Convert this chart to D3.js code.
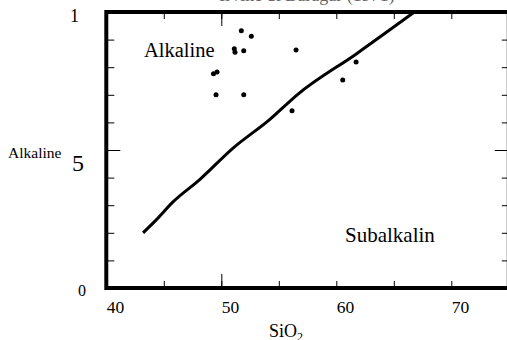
<!DOCTYPE html>
<html>
<head>
<meta charset="utf-8">
<script src="https://cdn.jsdelivr.net/npm/d3@7"></script>
<style>
body { margin: 0; background: #fff; }
svg text { font-family: "Liberation Serif", "Times New Roman", serif; fill: #000; }
</style>
</head>
<body>
<svg id="chart"></svg>
<script>
// samples (SiO2 wt%, alkali wt%)
var sio2 = [51.74, 52.61, 51.13, 51.19, 51.95, 56.50, 49.32, 49.63, 49.54, 51.95, 56.15, 61.72, 60.56];
var alkali = [9.32, 9.12, 8.67, 8.54, 8.60, 8.62, 7.76, 7.83, 7.00, 7.00, 6.42, 8.19, 7.54];

// alkaline / subalkaline divide
var lineSio2 = [43.2, 44.3, 45.8, 48.1, 51.0, 54.2, 56.6, 61.8, 66.8];
var lineAlkali = [2.0, 2.45, 3.12, 3.92, 5.06, 6.1, 7.0, 8.5, 10];

var xMinor = [45, 50, 55, 60, 65, 70];
var xMajor = [50];
var xLabels = [40, 50, 60, 70];
var yMinor = [1, 2, 3, 4, 5, 6, 7, 8, 9];
var yMajor = [5];
var yLabels = ['1', '5', '0'];
var yLabelValues = [10, 5, 0];

var width = 507, height = 340;
var svg = d3.select('#chart')
            .attr('width', width)
            .attr('height', height);

var x = d3.scaleLinear()
            .domain([40, 75])
            .range([106.3, 106.3 + 35 * 11.5]);
var y = d3.scaleLinear()
            .domain([0, 10])
            .range([288, 12]);

function tickAxis(axis, transform) {
    var g = svg.append('g')
        .attr('transform', transform)
        .call(axis);
    g.select('.domain').remove();
    g.selectAll('line').attr('stroke', '#000').attr('stroke-width', 1);
    g.selectAll('text').remove();
}

// minor and major ticks, pointing inward on all four sides
tickAxis(d3.axisBottom(x).tickValues(xMinor).tickSize(-7), `translate(0,${y(0)})`);
tickAxis(d3.axisBottom(x).tickValues(xMajor).tickSize(-14), `translate(0,${y(0)})`);
tickAxis(d3.axisTop(x).tickValues(xMinor).tickSize(-7), `translate(0,${y(10)})`);
tickAxis(d3.axisTop(x).tickValues(xMajor).tickSize(-14), `translate(0,${y(10)})`);
tickAxis(d3.axisLeft(y).tickValues(yMinor).tickSize(-8), `translate(${x(40)},0)`);
tickAxis(d3.axisLeft(y).tickValues(yMajor).tickSize(-14), `translate(${x(40)},0)`);
tickAxis(d3.axisRight(y).tickValues(yMinor).tickSize(-7), `translate(${x(75)},0)`);
tickAxis(d3.axisRight(y).tickValues(yMajor).tickSize(-14), `translate(${x(75)},0)`);

// frame
svg.append('rect')
    .attr('x', x(40))
    .attr('y', y(10))
    .attr('width', x(75) - x(40))
    .attr('height', y(0) - y(10))
    .attr('fill', 'none')
    .attr('stroke', '#000')
    .attr('stroke-width', 4);

// boundary line
var linePts = lineSio2.map((v, i) => [v, lineAlkali[i]]);
svg.append('path')
    .datum(linePts)
    .attr('fill', 'none')
    .attr('stroke', '#000')
    .attr('stroke-width', 3)
    .attr('d', d3.line()
                .x(d => x(d[0]))
                .y(d => y(d[1]))
                .curve(d3.curveMonotoneX));

// samples
svg.selectAll('.dot')
    .data(sio2.map((v, i) => [v, alkali[i]]))
    .enter()
    .append('circle')
        .classed('dot', true)
        .attr('cx', d => x(d[0]))
        .attr('cy', d => y(d[1]))
        .attr('r', 2.5)
        .attr('fill', '#000');

// x tick labels
svg.selectAll('.xlab')
    .data(xLabels)
    .enter()
    .append('text')
        .classed('xlab', true)
        .attr('x', d => x(d) + 0.5)
        .attr('y', 313)
        .style('font-size', '17.5px')
        .text(d => d);

// y tick labels, each set differently in the original
var ySizes = ['18px', '24px', '16px'];
var yRight = [79, 84, 86];
var yShift = [10, 21, 8];
svg.selectAll('.ylab')
    .data(yLabels)
    .enter()
    .append('text')
        .classed('ylab', true)
        .attr('x', (d, i) => yRight[i])
        .attr('y', (d, i) => y(yLabelValues[i]) + yShift[i])
        .style('font-size', (d, i) => ySizes[i])
        .style('text-anchor', 'end')
        .text(d => d);

svg.append('text')
    .attr('x', 8)
    .attr('y', 158)
    .style('font-size', '15.5px')
    .text('Alkaline');

var xt = svg.append('text')
    .attr('x', 269)
    .attr('y', 337)
    .style('font-size', '18px')
    .text('SiO');
xt.append('tspan')
    .attr('dy', 4)
    .style('font-size', '12px')
    .text('2');

// field names
svg.append('text')
    .attr('x', 144)
    .attr('y', 56.5)
    .style('font-size', '20.5px')
    .text('Alkaline');
svg.append('text')
    .attr('x', 345)
    .attr('y', 241.5)
    .style('font-size', '21px')
    .text('Subalkalin');

// title, mostly off the top of the picture
svg.append('text')
    .attr('x', 307)
    .attr('y', 0.5)
    .style('font-size', '18px')
    .style('text-anchor', 'middle')
    .style('fill', '#666')
    .text('Irvine & Baragar (1971)');
</script>
</body>
</html>
